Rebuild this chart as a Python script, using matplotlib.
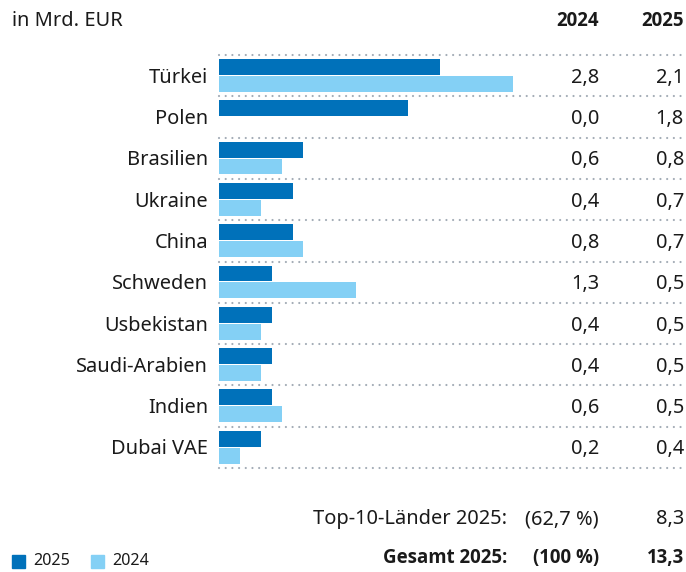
import matplotlib
matplotlib.use("Agg")
import matplotlib.pyplot as plt
from matplotlib.transforms import blended_transform_factory

countries = ["Türkei", "Polen", "Brasilien", "Ukraine", "China", "Schweden",
             "Usbekistan", "Saudi-Arabien", "Indien", "Dubai VAE"]
v2025 = [2.1, 1.8, 0.8, 0.7, 0.7, 0.5, 0.5, 0.5, 0.5, 0.4]
v2024 = [2.8, 0.0, 0.6, 0.4, 0.8, 1.3, 0.4, 0.4, 0.6, 0.2]
lbl2024 = ["2,8", "0,0", "0,6", "0,4", "0,8", "1,3", "0,4", "0,4", "0,6", "0,2"]
lbl2025 = ["2,1", "1,8", "0,8", "0,7", "0,7", "0,5", "0,5", "0,5", "0,5", "0,4"]

dark = "#0071BA"
light = "#84D0F5"
dotc = "#A3ACB6"
txt = "#1a1a1a"

plt.rcParams["font.family"] = ["Noto Sans", "DejaVu Sans"]
bold = ["Open Sans", "DejaVu Sans"]

W, H = 686, 572
fig = plt.figure(figsize=(W / 100, H / 100), dpi=100)

def fx(x):
    return x / W

def fy(y):
    return 1 - y / H

# bar area in pixels
x0, x1, y0, y1 = 219, 685, 55, 468
ax = fig.add_axes([fx(x0), fy(y1), fx(x1 - x0), (y1 - y0) / H])
n = len(countries)
rows = list(range(n))
ax.barh([r + 0.29 for r in rows], v2025, height=0.385, color=dark)
ax.barh([r + 0.70 for r in rows], v2024, height=0.385, color=light)
ax.set_xlim(0, (x1 - x0) / 105)
ax.set_ylim(n, 0)
for r in range(n + 1):
    ax.axhline(r, color=dotc, lw=1.6, ls=(0, (0.01, 3.0)),
               dash_capstyle="round", clip_on=False, zorder=0)
ax.axis("off")

tr = blended_transform_factory(fig.transFigure, ax.transData)
fs = 14.4
for i, c in enumerate(countries):
    ax.text(fx(208), i + 0.55, c, transform=tr, ha="right", va="center",
            fontsize=fs, color=txt)
    ax.text(fx(599), i + 0.55, lbl2024[i], transform=tr, ha="right",
            va="center", fontsize=fs, color=txt)
    ax.text(fx(684), i + 0.55, lbl2025[i], transform=tr, ha="right",
            va="center", fontsize=fs, color=txt)

# header
fig.text(fx(12), fy(21), "in Mrd. EUR", ha="left", va="center",
         fontsize=fs, color=txt)
fig.text(fx(599), fy(21), "2024", ha="right", va="center", fontsize=fs - 1,
         family=bold, fontweight="bold", color=txt)
fig.text(fx(684), fy(21), "2025", ha="right", va="center", fontsize=fs - 1,
         family=bold, fontweight="bold", color=txt)

# footer
fig.text(fx(507), fy(519), "Top-10-Länder 2025:", ha="right", va="center",
         fontsize=fs, color=txt)
fig.text(fx(599), fy(519), "(62,7 %)", ha="right", va="center",
         fontsize=fs, color=txt)
fig.text(fx(684), fy(519), "8,3", ha="right", va="center",
         fontsize=fs, color=txt)
fig.text(fx(507), fy(558), "Gesamt 2025:", ha="right", va="center",
         fontsize=fs - 1, family=bold, fontweight="bold", color=txt)
fig.text(fx(599), fy(558), "(100 %)", ha="right", va="center",
         fontsize=fs - 1, family=bold, fontweight="bold", color=txt)
fig.text(fx(684), fy(558), "13,3", ha="right", va="center",
         fontsize=fs - 1, family=bold, fontweight="bold", color=txt)

# legend
for lx, col, lab in [(12, dark, "2025"), (91, light, "2024")]:
    fig.patches.append(plt.Rectangle((fx(lx), fy(568)), fx(13), 13 / H,
                                     transform=fig.transFigure, color=col))
    fig.text(fx(lx + 21), fy(561), lab, ha="left", va="center",
             fontsize=11.6, color=txt)

fig.savefig("out.png", dpi=100)
